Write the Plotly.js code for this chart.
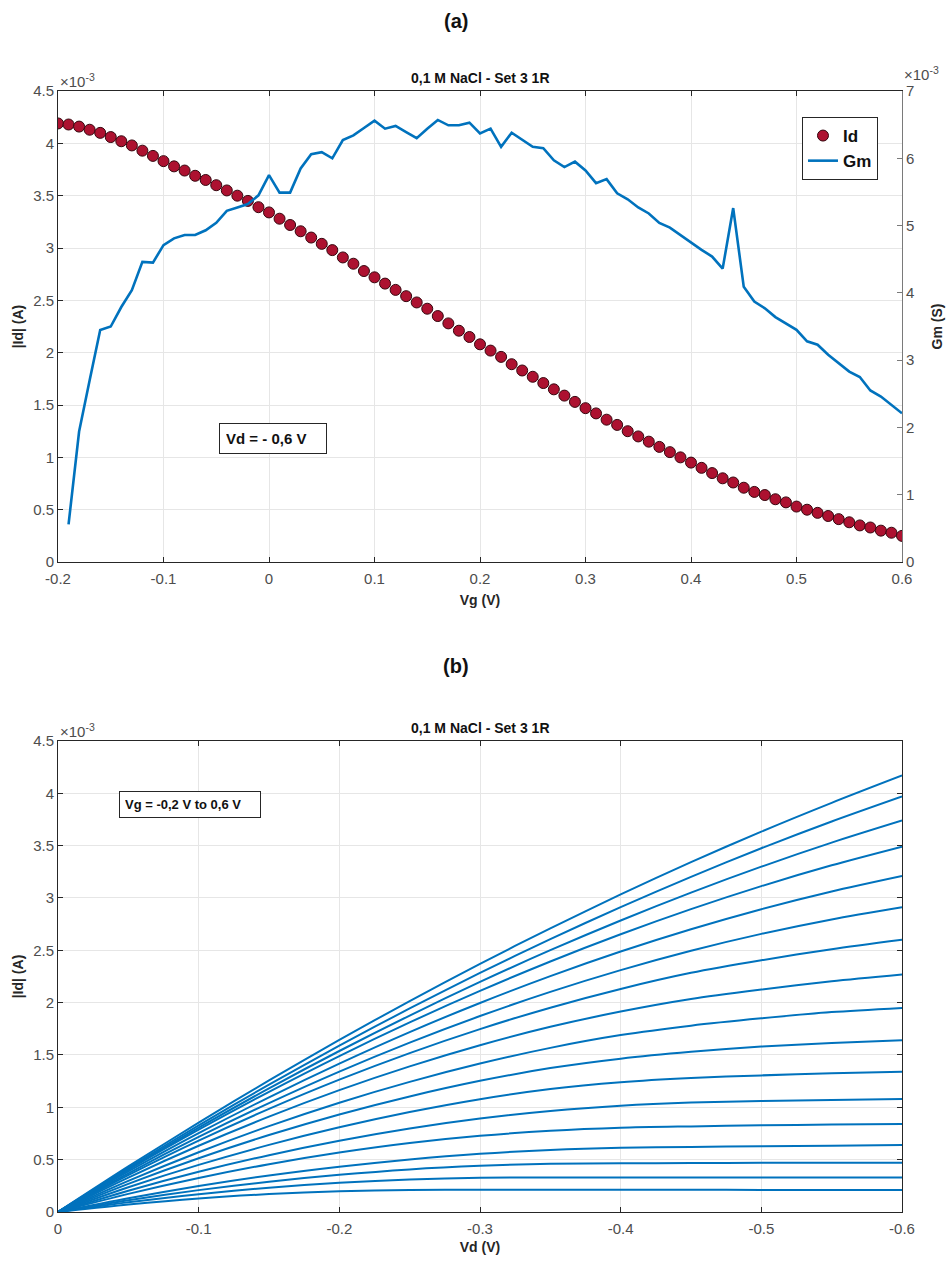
<!DOCTYPE html>
<html>
<head>
<meta charset="utf-8">
<script src="https://cdn.plot.ly/plotly-3.0.1.min.js"></script>
<style>
  html, body { margin: 0; padding: 0; background: #ffffff; }
  #chart { width: 947px; height: 1261px; }
</style>
</head>
<body>
<div id="chart"></div>
<script>
// ---------- (a) transfer curve: |Id| and Gm versus Vg at Vd = -0.6 V ----------
// currents in units of 1e-3 A, transconductance in units of 1e-3 S
const vgSweep = [-0.2, -0.19, -0.18, -0.17, -0.16, -0.15, -0.14, -0.13, -0.12, -0.11,
  -0.1, -0.09, -0.08, -0.07, -0.06, -0.05, -0.04, -0.03, -0.02, -0.01,
  0, 0.01, 0.02, 0.03, 0.04, 0.05, 0.06, 0.07, 0.08, 0.09,
  0.1, 0.11, 0.12, 0.13, 0.14, 0.15, 0.16, 0.17, 0.18, 0.19,
  0.2, 0.21, 0.22, 0.23, 0.24, 0.25, 0.26, 0.27, 0.28, 0.29,
  0.3, 0.31, 0.32, 0.33, 0.34, 0.35, 0.36, 0.37, 0.38, 0.39,
  0.4, 0.41, 0.42, 0.43, 0.44, 0.45, 0.46, 0.47, 0.48, 0.49,
  0.5, 0.51, 0.52, 0.53, 0.54, 0.55, 0.56, 0.57, 0.58, 0.59, 0.6];

const idTransfer = [4.19, 4.18, 4.16, 4.13, 4.10, 4.06, 4.02, 3.98, 3.93, 3.88,
  3.83, 3.78, 3.74, 3.69, 3.65, 3.60, 3.55, 3.50, 3.45, 3.39,
  3.34, 3.28, 3.22, 3.16, 3.10, 3.04, 2.98, 2.91, 2.85, 2.78,
  2.72, 2.66, 2.60, 2.54, 2.48, 2.42, 2.35, 2.28, 2.21, 2.15,
  2.08, 2.02, 1.96, 1.89, 1.83, 1.77, 1.71, 1.65, 1.59, 1.53,
  1.47, 1.42, 1.36, 1.31, 1.25, 1.20, 1.15, 1.10, 1.05, 1.00,
  0.95, 0.90, 0.85, 0.80, 0.76, 0.71, 0.67, 0.64, 0.60, 0.57,
  0.53, 0.50, 0.47, 0.44, 0.41, 0.38, 0.35, 0.33, 0.30, 0.28, 0.25];

const vgGm = [-0.19, -0.18, -0.17, -0.16, -0.15, -0.14, -0.13, -0.12, -0.11,
  -0.1, -0.09, -0.08, -0.07, -0.06, -0.05, -0.04, -0.03, -0.02, -0.01,
  0, 0.01, 0.02, 0.03, 0.04, 0.05, 0.06, 0.07, 0.08, 0.09,
  0.1, 0.11, 0.12, 0.13, 0.14, 0.15, 0.16, 0.17, 0.18, 0.19,
  0.2, 0.21, 0.22, 0.23, 0.24, 0.25, 0.26, 0.27, 0.28, 0.29,
  0.3, 0.31, 0.32, 0.33, 0.34, 0.35, 0.36, 0.37, 0.38, 0.39,
  0.4, 0.41, 0.42, 0.43, 0.44, 0.45, 0.46, 0.47, 0.48, 0.49,
  0.5, 0.51, 0.52, 0.53, 0.54, 0.55, 0.56, 0.57, 0.58, 0.59, 0.6];

const gm = [0.56, 1.94, 2.70, 3.45, 3.50, 3.79, 4.04, 4.46, 4.45,
  4.71, 4.81, 4.86, 4.86, 4.93, 5.04, 5.22, 5.27, 5.32, 5.45,
  5.75, 5.49, 5.49, 5.85, 6.06, 6.09, 6.00, 6.27, 6.34, 6.45,
  6.56, 6.44, 6.48, 6.39, 6.30, 6.44, 6.57, 6.49, 6.49, 6.53,
  6.37, 6.44, 6.17, 6.38, 6.27, 6.17, 6.15, 5.97, 5.87, 5.95,
  5.82, 5.63, 5.69, 5.48, 5.39, 5.27, 5.18, 5.04, 4.97, 4.86,
  4.74, 4.64, 4.54, 4.36, 5.26, 4.09, 3.87, 3.77, 3.64, 3.54,
  3.45, 3.28, 3.23, 3.08, 2.95, 2.83, 2.75, 2.55, 2.46, 2.33, 2.21];

// ---------- (b) output curves: |Id| versus Vd, one curve per gate voltage ----------
const vdSweep = [0, -0.05, -0.1, -0.15, -0.2, -0.25, -0.3, -0.35, -0.4, -0.45, -0.5, -0.55, -0.6];
const vgSteps = [-0.2, -0.15, -0.1, -0.05, 0, 0.05, 0.1, 0.15, 0.2, 0.25, 0.3, 0.35, 0.4, 0.45, 0.5, 0.55, 0.6];
const idOutput = [
  [0, 0.435, 0.854, 1.257, 1.644, 2.015, 2.371, 2.710, 3.034, 3.342, 3.634, 3.909, 4.170],
  [0, 0.422, 0.828, 1.217, 1.589, 1.945, 2.284, 2.607, 2.913, 3.202, 3.475, 3.731, 3.970],
  [0, 0.412, 0.806, 1.181, 1.538, 1.877, 2.198, 2.501, 2.785, 3.051, 3.299, 3.529, 3.740],
  [0, 0.403, 0.786, 1.148, 1.490, 1.811, 2.112, 2.393, 2.653, 2.893, 3.113, 3.312, 3.490],
  [0, 0.387, 0.753, 1.096, 1.418, 1.719, 1.997, 2.253, 2.488, 2.701, 2.893, 3.062, 3.210],
  [0, 0.370, 0.717, 1.040, 1.341, 1.618, 1.872, 2.103, 2.311, 2.496, 2.657, 2.795, 2.911],
  [0, 0.353, 0.682, 0.985, 1.264, 1.518, 1.747, 1.952, 2.131, 2.285, 2.405, 2.510, 2.600],
  [0, 0.329, 0.633, 0.911, 1.164, 1.391, 1.593, 1.769, 1.915, 2.035, 2.125, 2.205, 2.270],
  [0, 0.298, 0.571, 0.820, 1.044, 1.243, 1.418, 1.568, 1.690, 1.780, 1.850, 1.910, 1.950],
  [0, 0.269, 0.514, 0.735, 0.932, 1.104, 1.253, 1.375, 1.465, 1.530, 1.580, 1.615, 1.640],
  [0, 0.236, 0.450, 0.641, 0.809, 0.955, 1.078, 1.175, 1.240, 1.280, 1.305, 1.325, 1.340],
  [0, 0.203, 0.384, 0.543, 0.681, 0.798, 0.893, 0.965, 1.015, 1.045, 1.060, 1.070, 1.080],
  [0, 0.173, 0.325, 0.457, 0.568, 0.659, 0.728, 0.776, 0.805, 0.818, 0.828, 0.835, 0.840],
  [0, 0.132, 0.248, 0.349, 0.433, 0.502, 0.556, 0.593, 0.614, 0.622, 0.628, 0.634, 0.640],
  [0, 0.112, 0.209, 0.290, 0.356, 0.407, 0.441, 0.461, 0.465, 0.468, 0.470, 0.470, 0.470],
  [0, 0.092, 0.170, 0.232, 0.279, 0.311, 0.327, 0.330, 0.330, 0.330, 0.330, 0.330, 0.330],
  [0, 0.072, 0.130, 0.171, 0.198, 0.210, 0.212, 0.213, 0.213, 0.212, 0.211, 0.210, 0.210]
];

// ---------- tick labels ----------
const vgTicks = [-0.2, -0.1, 0, 0.1, 0.2, 0.3, 0.4, 0.5, 0.6];
const vgTickText = ['-0.2', '-0.1', '0', '0.1', '0.2', '0.3', '0.4', '0.5', '0.6'];
const vdTicks = [0, -0.1, -0.2, -0.3, -0.4, -0.5, -0.6];
const vdTickText = ['0', '-0.1', '-0.2', '-0.3', '-0.4', '-0.5', '-0.6'];
const idTicks = [0, 0.5, 1, 1.5, 2, 2.5, 3, 3.5, 4, 4.5];
const idTickText = ['0', '0.5', '1', '1.5', '2', '2.5', '3', '3.5', '4', '4.5'];
const gmTicks = [0, 1, 2, 3, 4, 5, 6, 7];
const gmTickText = ['0', '1', '2', '3', '4', '5', '6', '7'];

const blue = '#0072BD';
const ink = '#262626';
const tickInk = '#4d4d4d';
const grid = '#e6e6e6';
const FONT = 'Liberation Sans, Arial, Helvetica, sans-serif';

const traces = [
  {
    x: vgSweep, y: idTransfer, name: '<b>Id</b>', type: 'scatter', mode: 'markers',
    xaxis: 'x', yaxis: 'y',
    marker: { size: 11, color: '#ad1130', line: { color: '#35060e', width: 1 } }
  },
  {
    x: vgGm, y: gm, name: '<b>Gm</b>', type: 'scatter', mode: 'lines',
    xaxis: 'x', yaxis: 'y2',
    line: { color: blue, width: 2.6 }
  }
];

idOutput.forEach((curve, i) => {
  traces.push({
    x: vdSweep, y: curve, name: 'Vg = ' + vgSteps[i] + ' V', type: 'scatter', mode: 'lines',
    xaxis: 'x2', yaxis: 'y3', showlegend: false,
    line: { color: blue, width: 2, shape: 'spline', smoothing: 0.8 }
  });
});

const axisBase = {
  ticks: 'inside', ticklen: 5, tickwidth: 1, tickcolor: ink,
  showline: true, linecolor: ink, linewidth: 1,
  showgrid: true, gridcolor: grid, gridwidth: 1, zeroline: false,
  tickfont: { family: FONT, size: 15, color: tickInk },
  fixedrange: true
};
const titleFont = { family: FONT, size: 14, color: ink };

// plot-area fractions for the two panels
const topDomain = [0.5798, 1];
const botDomain = [0, 0.4202];

const layout = {
  width: 947, height: 1261,
  margin: { l: 58, r: 45, t: 91, b: 49 },
  paper_bgcolor: '#ffffff', plot_bgcolor: '#ffffff',
  font: { family: FONT, size: 14, color: ink },
  showlegend: true,
  legend: {
    x: 0.8815, y: 0.9768, xanchor: 'left', yanchor: 'top',
    bgcolor: '#ffffff', bordercolor: ink, borderwidth: 1,
    font: { family: FONT, size: 17, color: '#111111' },
    itemwidth: 30, tracegroupgap: 0
  },
  xaxis: Object.assign({}, axisBase, {
    domain: [0, 1], anchor: 'y', range: [-0.2, 0.6],
    tickvals: vgTicks, ticktext: vgTickText, mirror: 'ticks', ticklabelstandoff: 3,
    title: { text: '<b>Vg (V)</b>', font: titleFont, standoff: 9 }
  }),
  yaxis: Object.assign({}, axisBase, {
    domain: topDomain, anchor: 'x', range: [0, 4.5],
    tickvals: idTicks, ticktext: idTickText, mirror: false,
    title: { text: '<b>|Id| (A)</b>', font: titleFont, standoff: 6 }
  }),
  yaxis2: Object.assign({}, axisBase, {
    overlaying: 'y', side: 'right', anchor: 'x', range: [0, 7],
    tickvals: gmTicks, ticktext: gmTickText, showgrid: false,
    linecolor: '#7a7a7a', tickcolor: '#7a7a7a',
    title: { text: '<b>Gm (S)</b>', font: titleFont, standoff: 18 }
  }),
  xaxis2: Object.assign({}, axisBase, {
    domain: [0, 1], anchor: 'y3', range: [0, -0.6],
    tickvals: vdTicks, ticktext: vdTickText, mirror: 'ticks', ticklabelstandoff: 3,
    title: { text: '<b>Vd (V)</b>', font: titleFont, standoff: 6 }
  }),
  yaxis3: Object.assign({}, axisBase, {
    domain: botDomain, anchor: 'x2', range: [0, 4.5],
    tickvals: idTicks, ticktext: idTickText, mirror: 'ticks',
    title: { text: '<b>|Id| (A)</b>', font: titleFont, standoff: 6 }
  }),
  annotations: [
    { text: '<b>(a)</b>', xref: 'paper', yref: 'paper', x: 0.4716, y: 1.0624,
      xanchor: 'center', yanchor: 'middle', showarrow: false,
      font: { family: FONT, size: 20, color: '#111111' } },
    { text: '<b>(b)</b>', xref: 'paper', yref: 'paper', x: 0.4716, y: 0.4870,
      xanchor: 'center', yanchor: 'middle', showarrow: false,
      font: { family: FONT, size: 20, color: '#111111' } },
    { text: '<b>0,1 M NaCl - Set 3 1R</b>', xref: 'paper', yref: 'paper', x: 0.5, y: 1.0116,
      xanchor: 'center', yanchor: 'middle', showarrow: false,
      font: { family: FONT, size: 14, color: '#111111' } },
    { text: '<b>0,1 M NaCl - Set 3 1R</b>', xref: 'paper', yref: 'paper', x: 0.5, y: 0.4318,
      xanchor: 'center', yanchor: 'middle', showarrow: false,
      font: { family: FONT, size: 14, color: '#111111' } },
    { text: '×10<sup>-3</sup>', xref: 'paper', yref: 'paper', x: 0.0, y: 1.0,
      xanchor: 'left', yanchor: 'bottom', yshift: -1, showarrow: false,
      font: { family: FONT, size: 15, color: tickInk } },
    { text: '×10<sup>-3</sup>', xref: 'paper', yref: 'paper', x: 1.0, y: 1.0,
      xanchor: 'left', yanchor: 'bottom', yshift: 6, showarrow: false,
      font: { family: FONT, size: 15, color: tickInk } },
    { text: '×10<sup>-3</sup>', xref: 'paper', yref: 'paper', x: 0.0, y: 0.4202,
      xanchor: 'left', yanchor: 'bottom', yshift: -1, showarrow: false,
      font: { family: FONT, size: 15, color: tickInk } },
    { text: '<b>Vd = - 0,6 V</b>', xref: 'x', yref: 'y', x: 0.004, y: 1.18,
      xanchor: 'center', yanchor: 'middle', showarrow: false,
      width: 94, align: 'left',
      bgcolor: '#ffffff', bordercolor: ink, borderwidth: 1, borderpad: 6,
      font: { family: FONT, size: 15, color: '#111111' } },
    { text: '<b>Vg = -0,2 V to 0,6 V</b>', xref: 'x2', yref: 'y3', x: -0.094, y: 3.89,
      xanchor: 'center', yanchor: 'middle', showarrow: false,
      width: 130, align: 'left',
      bgcolor: '#ffffff', bordercolor: ink, borderwidth: 1, borderpad: 5,
      font: { family: FONT, size: 13, color: '#111111' } }
  ]
};

Plotly.newPlot('chart', traces, layout, { displayModeBar: false, staticPlot: true });
</script>
</body>
</html>
